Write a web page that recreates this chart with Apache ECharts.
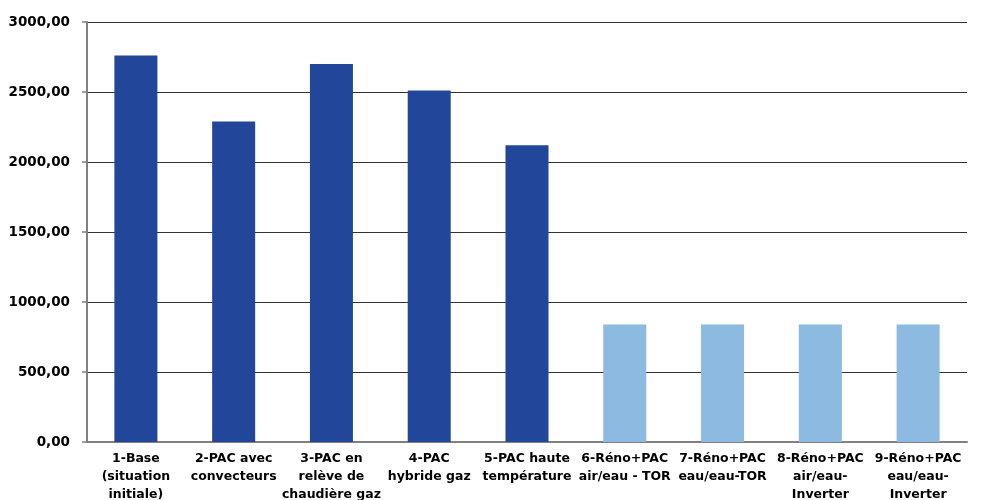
<!DOCTYPE html>
<html>
<head>
<meta charset="utf-8">
<script src="https://cdn.jsdelivr.net/npm/echarts@6/dist/echarts.min.js"></script>
<style>
html,body{margin:0;padding:0;background:#fff;overflow:hidden;}
#chart{width:983px;height:500px;}
</style>
</head>
<body>
<div id="chart"></div>
<script>
const categories = [
  "1-Base\n(situation\ninitiale)",
  "2-PAC avec\nconvecteurs",
  "3-PAC en\nrelève de\nchaudière gaz",
  "4-PAC\nhybride gaz",
  "5-PAC haute\ntempérature",
  "6-Réno+PAC\nair/eau - TOR",
  "7-Réno+PAC\neau/eau-TOR",
  "8-Réno+PAC\nair/eau-\nInverter",
  "9-Réno+PAC\neau/eau-\nInverter"
];
const values = [2760, 2290, 2700, 2510, 2120, 840, 840, 840, 840];
const yTicks = [0, 500, 1000, 1500, 2000, 2500, 3000];

const DARK = '#22479a';
const LIGHT = '#8cbae1';
const FONT = 'DejaVu Sans';

const chart = echarts.init(document.getElementById('chart'), null, {renderer: 'canvas', width: 983, height: 500});
chart.setOption({
  animation: false,
  backgroundColor: '#fff',
  grid: {left: 87, right: 16, top: 22, bottom: 58, containLabel: false, outerBoundsMode: 'none'},
  xAxis: {
    type: 'category',
    data: categories,
    axisLine: {show: true, lineStyle: {color: '#808080', width: 2}},
    axisTick: {show: false},
    axisLabel: {
      interval: 0,
      margin: 8,
      color: '#000',
      fontFamily: FONT,
      fontWeight: 'bold',
      fontSize: 12.5,
      lineHeight: 18,
      align: 'center'
    }
  },
  yAxis: {
    type: 'value',
    min: yTicks[0],
    max: yTicks[yTicks.length - 1],
    interval: yTicks[1] - yTicks[0],
    axisLine: {show: true, lineStyle: {color: '#808080', width: 2}},
    axisTick: {show: true, length: 5, lineStyle: {color: '#808080', width: 1.5}},
    splitLine: {show: true, lineStyle: {color: '#333', width: 1.2}},
    axisLabel: {
      margin: 17,
      color: '#000',
      fontFamily: FONT,
      fontWeight: 'bold',
      fontSize: 13.5,
      formatter: v => v.toFixed(2).replace('.', ',')
    }
  },
  series: [{
    type: 'bar',
    data: values,
    barWidth: '44%',
    itemStyle: {
      color: p => (p.dataIndex >= 5 ? LIGHT : DARK)
    }
  }]
});
</script>
</body>
</html>
